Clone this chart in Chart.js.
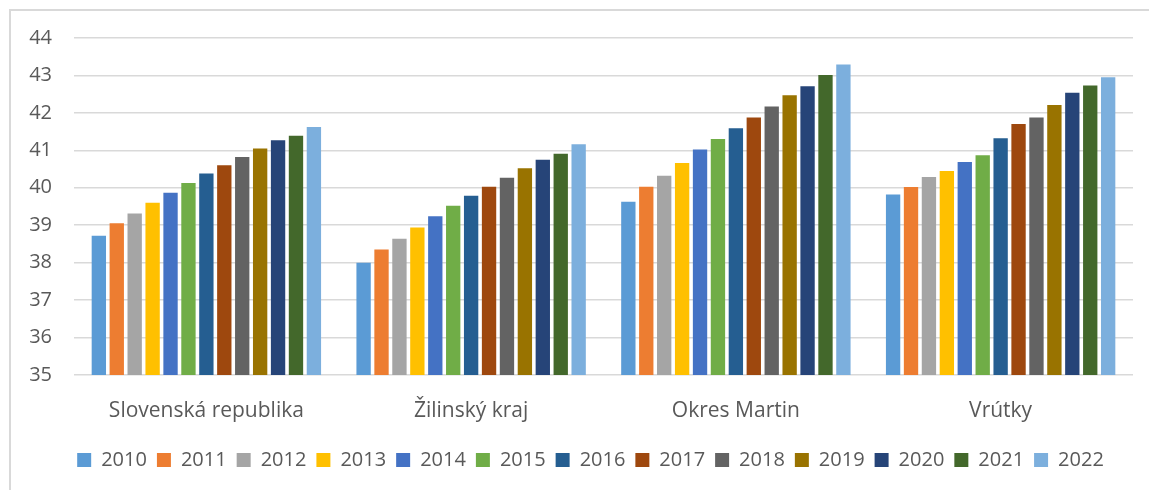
<!DOCTYPE html>
<html>
<head>
<meta charset="utf-8">
<script src="https://cdn.jsdelivr.net/npm/chart.js@4/dist/chart.umd.min.js"></script>
<style>
  html, body { margin: 0; padding: 0; background: #fff; overflow: hidden; }
  .frame { position: absolute; left: 9px; top: 9px; width: 1200px; height: 520px;
           border-left: 2px solid #d9d9d9; border-top: 2px solid #d9d9d9; }
  .wrap { position: absolute; left: 0; top: 0; width: 1159px; height: 469px; }
</style>
</head>
<body>
<div class="frame">
  <div class="wrap"><canvas id="chart"></canvas></div>
</div>
<script>
// data
const categories = ['Slovenská republika', 'Žilinský kraj', 'Okres Martin', 'Vrútky'];
const years = ['2010','2011','2012','2013','2014','2015','2016','2017','2018','2019','2020','2021','2022'];
const slovensko    = [38.72, 39.05, 39.31, 39.60, 39.87, 40.13, 40.38, 40.60, 40.82, 41.05, 41.27, 41.39, 41.62];
const zilinskyKraj = [38.00, 38.35, 38.64, 38.94, 39.24, 39.52, 39.79, 40.03, 40.27, 40.52, 40.75, 40.91, 41.16];
const okresMartin  = [39.63, 40.03, 40.32, 40.66, 41.02, 41.30, 41.59, 41.88, 42.17, 42.47, 42.71, 43.01, 43.29];
const vrutky       = [39.82, 40.02, 40.29, 40.45, 40.69, 40.87, 41.32, 41.70, 41.88, 42.21, 42.54, 42.73, 42.95];
const yMin = 35, yMax = 44;

const colors = ['#5B9BD5','#ED7D31','#A5A5A5','#FFC000','#4472C4','#70AD47','#255E91',
                '#9E480E','#636363','#997300','#264478','#43682B','#7CAFDD'];

const datasets = years.map((y, i) => ({
  label: y,
  data: [slovensko[i], zilinskyKraj[i], okresMartin[i], vrutky[i]],
  backgroundColor: colors[i],
  borderWidth: 0,
  categoryPercentage: 0.88,
  barPercentage: 0.8
}));

const txt = '#595959';
const fontFamily = '"Open Sans", sans-serif';

new Chart(document.getElementById('chart'), {
  type: 'bar',
  data: { labels: categories, datasets },
  options: {
    responsive: true, maintainAspectRatio: false, animation: false,
    layout: { padding: { top: 27, left: 0, right: 0, bottom: 0 } },
    plugins: {
      tooltip: { enabled: false },
      legend: {
        position: 'bottom',
        labels: { boxWidth: 14, boxHeight: 14, padding: 10, color: txt, font: { family: fontFamily, size: 20 } }
      }
    },
    scales: {
      x: {
        grid: { display: false, drawTicks: false },
        border: { display: false },
        ticks: { color: txt, padding: 23, font: { family: fontFamily, size: 21 }, maxRotation: 0 },
        afterFit: s => { s.height = 65; }
      },
      y: {
        min: yMin, max: yMax,
        grid: { color: '#d9d9d9', lineWidth: 1.5, drawTicks: false },
        border: { display: false },
        ticks: { stepSize: 1, color: txt, padding: 22, font: { family: fontFamily, size: 20 } },
        // fixed width; drop the label overhang so layout padding sets the top
        afterFit: s => { s.width = 63; s.paddingTop = 0; s.paddingBottom = 0; }
      },
      y2: {
        position: 'right', min: yMin, max: yMax,
        grid: { display: false, drawTicks: false },
        border: { display: false },
        ticks: { display: false },
        afterFit: s => { s.width = 37; s.paddingTop = 0; s.paddingBottom = 0; }
      }
    }
  }
});
</script>
</body>
</html>
